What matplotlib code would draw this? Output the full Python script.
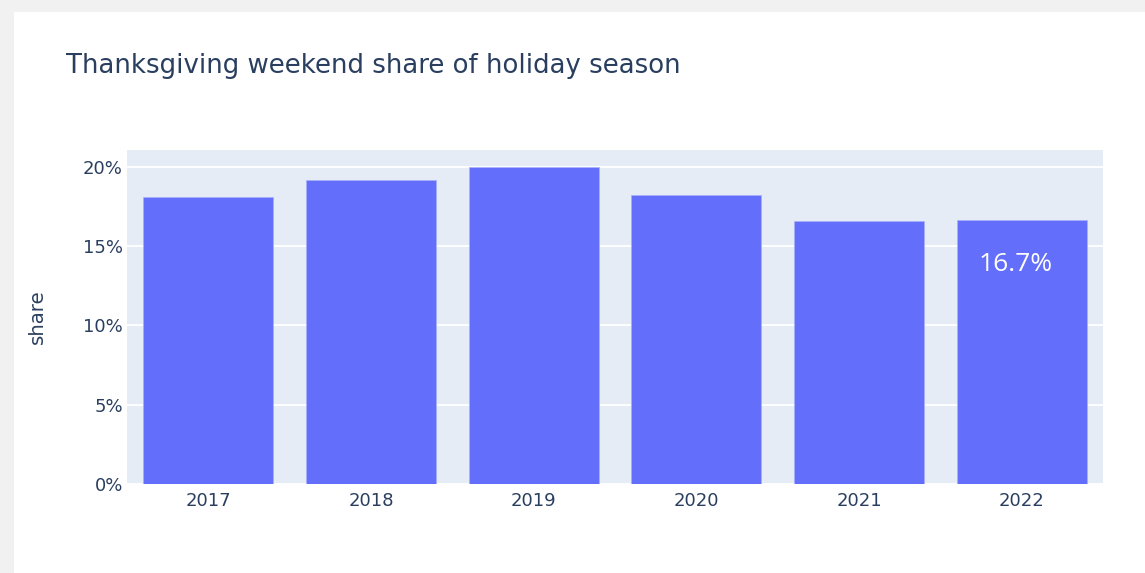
import matplotlib.pyplot as plt
from matplotlib.patches import Rectangle
from matplotlib.ticker import PercentFormatter

years = ["2017", "2018", "2019", "2020", "2021", "2022"]
share = [18.1, 19.15, 20.0, 18.2, 16.6, 16.65]
highlight_label = "16.7%"

font = "DejaVu Sans"
text_color = "#2a3f5f"
bar_color = "#636efa"
plot_bg = "#E5ECF6"

fig = plt.figure(figsize=(11.45, 5.73), dpi=100)
fig.patch.set_facecolor("white")

# card shadow along top and left edges of the screenshot
fig.patches.append(Rectangle((0, 1 - 12 / 573), 1, 12 / 573, transform=fig.transFigure,
                             facecolor="#f1f1f1", edgecolor="none", zorder=0))
fig.patches.append(Rectangle((0, 0), 14 / 1145, 1, transform=fig.transFigure,
                             facecolor="#f1f1f1", edgecolor="none", zorder=0))

ax = fig.add_axes([127 / 1145, 1 - 484 / 573, (1103 - 127) / 1145, (484 - 150) / 573])
ax.set_facecolor(plot_bg)

x = range(len(years))
bars = ax.bar(x, share, width=0.8, color=bar_color, edgecolor="#aab0fb",
              linewidth=0.5, zorder=3)

ax.set_xlim(-0.5, len(years) - 0.5)
ax.set_ylim(0, 21.06)
ax.set_yticks([0, 5, 10, 15, 20])
ax.yaxis.set_major_formatter(PercentFormatter(decimals=0))
ax.set_xticks(list(x))
ax.set_xticklabels(years)
ax.grid(axis="y", color="white", linewidth=1.3, zorder=1)
ax.set_axisbelow(True)
for s in ax.spines.values():
    s.set_visible(False)
ax.tick_params(axis="both", length=0, labelsize=13, labelcolor=text_color)
ax.tick_params(axis="x", pad=6)
ax.tick_params(axis="y", pad=3)
for lbl in ax.get_xticklabels() + ax.get_yticklabels():
    lbl.set_fontfamily(font)

ax.set_ylabel("share", fontsize=14.2, color=text_color, fontfamily=font, labelpad=26)

# value label inside last bar
last = bars[-1]
ax.annotate(highlight_label, xy=(last.get_x() + last.get_width() / 2, last.get_height()),
            xytext=(-4, -32), textcoords="offset points", ha="center", va="center",
            color="white", fontsize=19, fontfamily="Open Sans", zorder=4)

fig.text(66 / 1145, 1 - 73 / 573, "Thanksgiving weekend share of holiday season",
         fontsize=18.7, color=text_color, fontfamily=font, ha="left", va="baseline")

fig.savefig("out.png", dpi=100)
